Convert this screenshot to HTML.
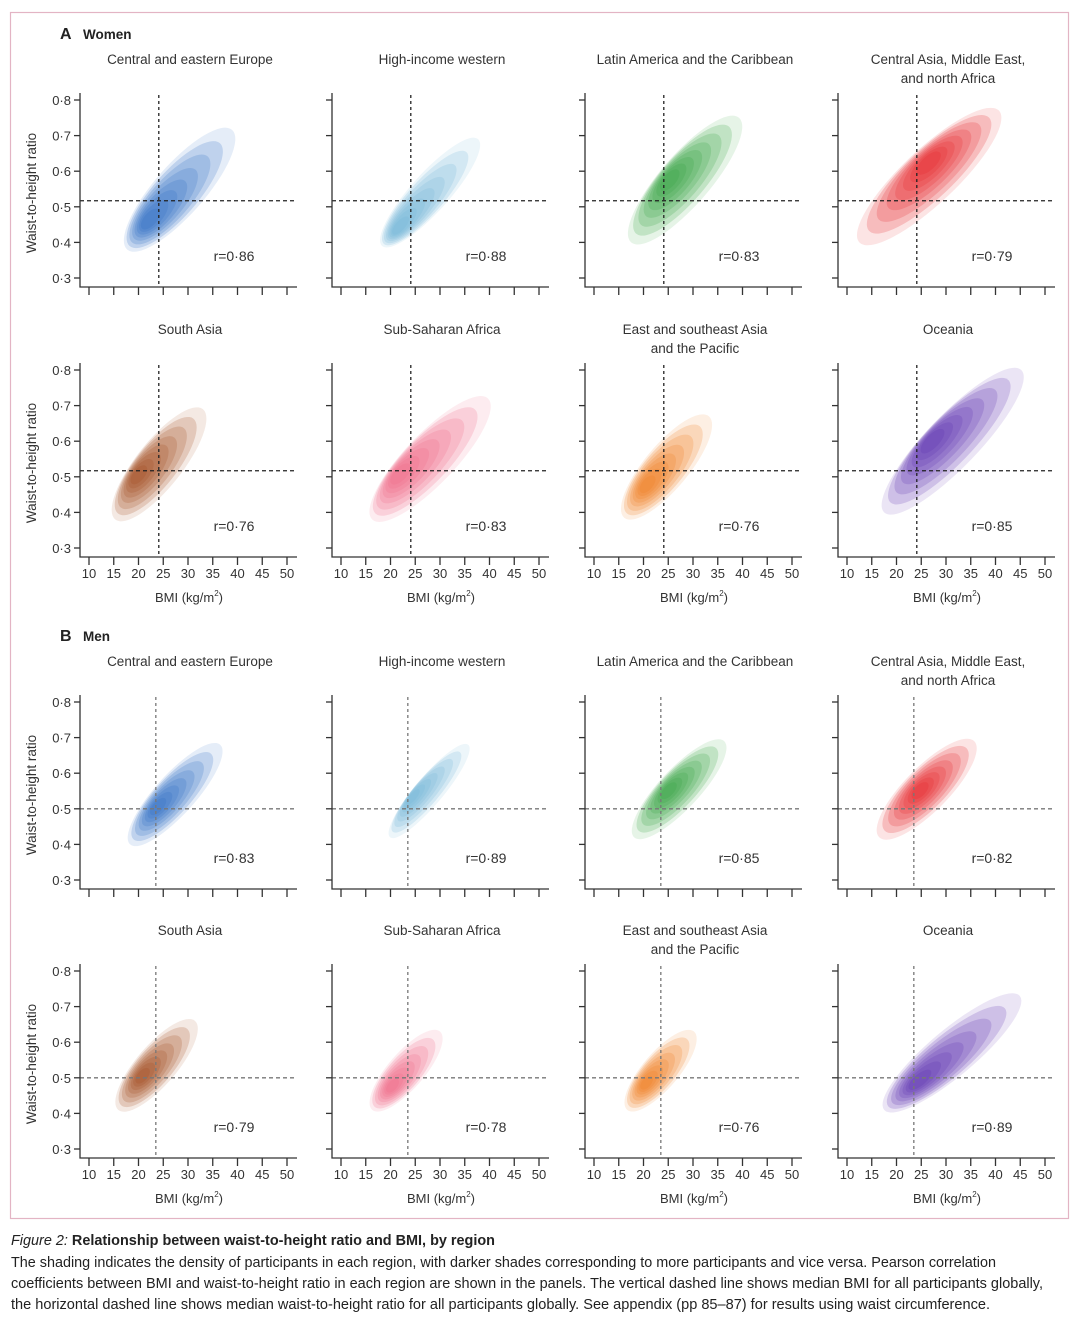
<!DOCTYPE html>
<html><head><meta charset="utf-8"><style>
html,body{margin:0;padding:0;background:#fff;}
svg{display:block;font-family:"Liberation Sans",sans-serif;}
</style></head><body>
<svg id="fig" width="1080" height="1322" viewBox="0 0 1080 1322" xmlns="http://www.w3.org/2000/svg">
<rect x="10.5" y="12.5" width="1058" height="1206" fill="none" stroke="#e3b4c4" stroke-width="1.2"/>
<text x="60" y="39" font-size="16" font-weight="bold" fill="#222">A</text>
<text x="83" y="39" font-size="13.5" font-weight="bold" fill="#222">Women</text>
<text x="60" y="641" font-size="16" font-weight="bold" fill="#222">B</text>
<text x="83" y="641" font-size="13.5" font-weight="bold" fill="#222">Men</text>
<g id="panels"></g>
<g fill="#222">
<text x="11" y="1245" font-size="15" textLength="484" lengthAdjust="spacingAndGlyphs"><tspan font-style="italic">Figure 2:</tspan><tspan font-weight="bold"> Relationship between waist-to-height ratio and BMI, by region</tspan></text>
<text x="11" y="1267" font-size="14.5" textLength="985" lengthAdjust="spacingAndGlyphs">The shading indicates the density of participants in each region, with darker shades corresponding to more participants and vice versa. Pearson correlation</text>
<text x="11" y="1288" font-size="14.5" textLength="1032" lengthAdjust="spacingAndGlyphs">coefficients between BMI and waist-to-height ratio in each region are shown in the panels. The vertical dashed line shows median BMI for all participants globally,</text>
<text x="11" y="1309" font-size="14.5" textLength="979" lengthAdjust="spacingAndGlyphs">the horizontal dashed line shows median waist-to-height ratio for all participants globally. See appendix (pp 85–87) for results using waist circumference.</text>
</g>
</svg>
<script>
const regions = ["Central and eastern Europe|", "High-income western|", "Latin America and the Caribbean|", "Central Asia, Middle East,|and north Africa", "South Asia|", "Sub-Saharan Africa|", "East and southeast Asia|and the Pacific", "Oceania|"];
const colors = ["#2a68c2","#6cb6d8","#2ea23a","#e61f25","#a2461a","#ee6580","#f27a1a","#5a2daf"];
// women then men: low-end point, high-end point, mode, half-width(px)
const lowBMI = [17.7,18.3,17.5,12.5,15.3,16.3,16.1,17.5, 18.3,19.9,18.1,16.5,15.9,16.3,16.7,17.5];
const lowWHtR = [0.38,0.39,0.40,0.40,0.38,0.38,0.385,0.40, 0.40,0.42,0.42,0.42,0.41,0.41,0.41,0.41];
const highBMI = [38.9,37.7,39.3,40.7,33.0,39.7,33.2,45.2, 36.5,35.7,36.3,35.7,31.4,30.0,30.2,44.9];
const highWHtR = [0.716,0.69,0.75,0.77,0.69,0.72,0.67,0.80, 0.68,0.68,0.69,0.69,0.66,0.63,0.63,0.73];
const modeBMI = [21.3,20.9,24.7,26.5,19.3,20.9,20.1,26.5, 23.3,23.9,24.7,24.5,20.3,19.9,20.1,23.5];
const modeWHtR = [0.45,0.43,0.575,0.63,0.50,0.50,0.47,0.60, 0.50,0.53,0.55,0.55,0.50,0.47,0.48,0.48];
const spread = [25,19,25,27,23,25,22,26, 20,14,20,22,20,18,18,23];
const rValues = ["0·86","0·88","0·83","0·79","0·76","0·83","0·76","0·85", "0·83","0·89","0·85","0·82","0·79","0·78","0·76","0·89"];
const medianBMI = [24.1, 23.5];
const medianWHtR = [0.517, 0.50];
const xTicks = [10,15,20,25,30,35,40,45,50];
const yTicks = [0.3,0.4,0.5,0.6,0.7,0.8];
const yTickLabels = ["0·3","0·4","0·5","0·6","0·7","0·8"];

const NS = "http://www.w3.org/2000/svg";
const root = document.getElementById("panels");
const colX = [0,252,505,758];
const rowY = [100,370,702,971];
function mk(tag, attrs, parent){const e=document.createElementNS(NS,tag);for(const k in attrs)e.setAttribute(k,attrs[k]);(parent||root).appendChild(e);return e;}

for(let p=0;p<16;p++){
  const sex = p<8?0:1;
  const ri = p%8;
  const row = Math.floor(p/4);
  const col = p%4;
  const ox = colX[col], oy = rowY[row];
  const X = b => ox + 89 + (b-10)*4.95;
  const Y = w => oy + (0.8-w)*356;
  const g = mk("g",{});
  
  
  const lines = regions[ri].split("|").filter(s=>s);
  lines.forEach((s,i)=>{
    const t = mk("text",{x:ox+190,y:oy-36+i*19,"font-size":"13.5","text-anchor":"middle",fill:"#333"},g);
    
    
    t.textContent = s;
  });
  const x1=X(lowBMI[p]), y1=Y(lowWHtR[p]), x2=X(highBMI[p]), y2=Y(highWHtR[p]);
  const mx=X(modeBMI[p]), my=Y(modeWHtR[p]);
  const cx=(x1+x2)/2, cy=(y1+y2)/2;
  const rx=Math.hypot(x2-x1,y2-y1)/2;
  const ang=Math.atan2(y2-y1,x2-x1)*180/Math.PI;
  const dens = mk("g",{},g);
  
  
  [1,0.86,0.72,0.58,0.46,0.35,0.25,0.16].forEach((k,i)=>{
    const ex = mx+(cx-mx)*k, ey = my+(cy-my)*k;
    const e = mk("ellipse",{cx:ex,cy:ey,rx:rx*k,ry:spread[p]*Math.pow(k,0.75),transform:`rotate(${ang} ${ex} ${ey})`,fill:colors[ri],"fill-opacity":i==0?0.12:0.2},dens);
    
    
  });
  const dc = sex? "#777":"#222";
  const vl = mk("line",{x1:X(medianBMI[sex]),x2:X(medianBMI[sex]),y1:oy-5,y2:oy+187,stroke:dc,"stroke-width":1.3,"stroke-dasharray":"3,3"},g);
  
  
  const hl = mk("line",{x1:ox+80,x2:ox+297,y1:Y(medianWHtR[sex]),y2:Y(medianWHtR[sex]),stroke:dc,"stroke-width":1.3,"stroke-dasharray":"4,3"},g);
  
  
  const ax = mk("path",{d:`M${ox+80},${oy-7}V${oy+187}H${ox+297}`,fill:"none",stroke:"#333","stroke-width":1.3},g);
  
  
  yTicks.forEach((v,i)=>{
    const tk = mk("line",{x1:ox+74,x2:ox+80,y1:Y(v),y2:Y(v),stroke:"#333","stroke-width":1.3},g);
    
    
    if(col===0){
      const t = mk("text",{x:ox+71,y:Y(v)+5,"font-size":"13","text-anchor":"end",fill:"#333"},g);
      
      
      t.textContent = yTickLabels[i];
    }
  });
  xTicks.forEach(v=>{
    const tk = mk("line",{x1:X(v),x2:X(v),y1:oy+187,y2:oy+195,stroke:"#333","stroke-width":1.3},g);
    
    
    if(row%2===1){
      const t = mk("text",{x:X(v),y:oy+208,"font-size":"13","text-anchor":"middle",fill:"#333"},g);
      
      
      t.textContent = v;
    }
  });
  if(row%2===1){
    const t = mk("text",{x:ox+189,y:oy+232,"font-size":"13","text-anchor":"middle",fill:"#333"},g);
    
    
    t.innerHTML = 'BMI (kg/m<tspan font-size="8" dy="-6">2</tspan><tspan dy="6">)</tspan>';
  }
  if(col===0){
    const t = mk("text",{x:0,y:0,"font-size":"13.5","text-anchor":"middle",fill:"#333",transform:`translate(36 ${oy+93}) rotate(-90)`},g);
    
    
    t.textContent = "Waist-to-height ratio";
  }
  const rt = mk("text",{x:ox+234,y:oy+161,"font-size":"14","text-anchor":"middle",fill:"#333"},g);
  
  
  rt.textContent = "r=" + rValues[p];
}
</script>
</body></html>
